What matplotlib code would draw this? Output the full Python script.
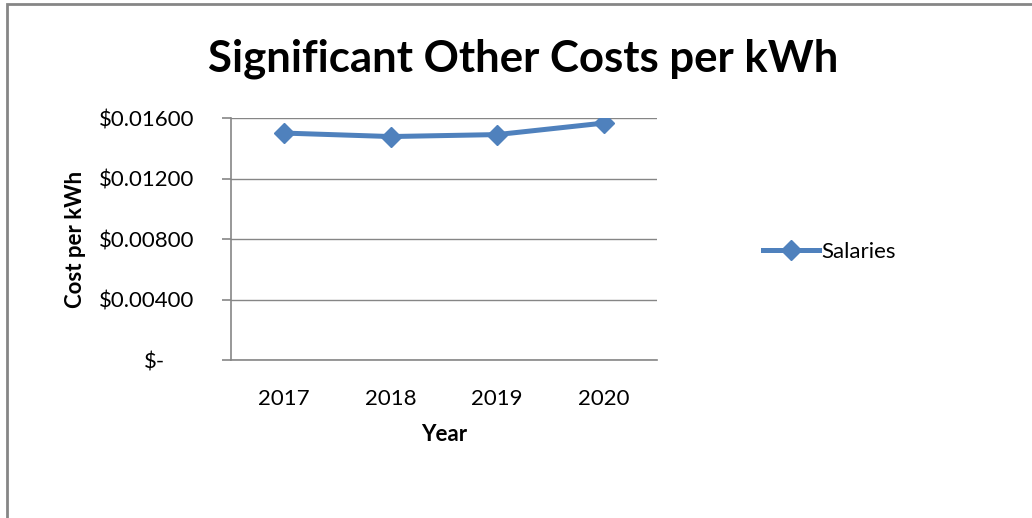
import matplotlib
matplotlib.use("Agg")
import matplotlib.pyplot as plt
from matplotlib.ticker import FuncFormatter
from matplotlib.patches import Rectangle
from matplotlib.transforms import ScaledTranslation

years = ["2017", "2018", "2019", "2020"]
salaries = [0.01501, 0.01478, 0.01491, 0.01567]
yticks = [0.0, 0.004, 0.008, 0.012, 0.016]

plt.rcParams["font.family"] = ["Lato", "DejaVu Sans"]

fig = plt.figure(figsize=(10.32, 5.18), dpi=100)
ax = fig.add_axes([0.2238, 0.305, 0.4128, 0.467])

grey = "#868686"
blue = "#4F81BD"

x = range(len(years))
ax.plot(x, salaries, color=blue, lw=3.6, marker="D", markersize=10,
        label="Salaries", zorder=3)

ax.set_xlim(-0.5, len(years) - 0.5)
ax.set_ylim(0, 0.016)
ax.set_xticks(list(x))
ax.set_xticklabels(years)
ax.set_yticks(yticks)

def money(v, pos):
    if abs(v) < 1e-12:
        return "$-"
    return "${:.5f}".format(v)

ax.yaxis.set_major_formatter(FuncFormatter(money))
ax.grid(axis="y", color=grey, lw=1)
ax.set_axisbelow(True)

for s in ["top", "right"]:
    ax.spines[s].set_visible(False)
ax.spines["left"].set_color(grey)
ax.spines["bottom"].set_color(grey)
ax.spines["left"].set_linewidth(1.2)
ax.spines["bottom"].set_linewidth(1.2)

ax.tick_params(axis="y", length=6.5, color=grey, width=1.2, pad=20,
               labelsize=16)
ax.tick_params(axis="x", length=0, pad=21, labelsize=16)

# zero label sits further left, like an accounting format
fig.canvas.draw()
zl = ax.yaxis.get_majorticklabels()[0]
zl.set_transform(zl.get_transform() + ScaledTranslation(-0.29, 0, fig.dpi_scale_trans))

ax.set_xlabel("Year", fontsize=16, fontweight="bold", labelpad=11)
ax.set_ylabel("Cost per kWh", fontsize=16, fontweight="bold", labelpad=9)

fig.text(0.507, 0.887, "Significant Other Costs per kWh", ha="center",
         va="center", fontsize=31.5, fontweight="bold")

ax.legend(loc="center left", bbox_to_anchor=(1.25, 0.446), frameon=False,
          fontsize=16, handlelength=2.5, handletextpad=0.1,
          borderpad=0, borderaxespad=0)

# chart frame
fig.patches.append(Rectangle((0.0065, -0.1), 1.2, 1.093, transform=fig.transFigure,
                             fill=False, edgecolor=grey, lw=2))

fig.savefig("out.png", dpi=100)
